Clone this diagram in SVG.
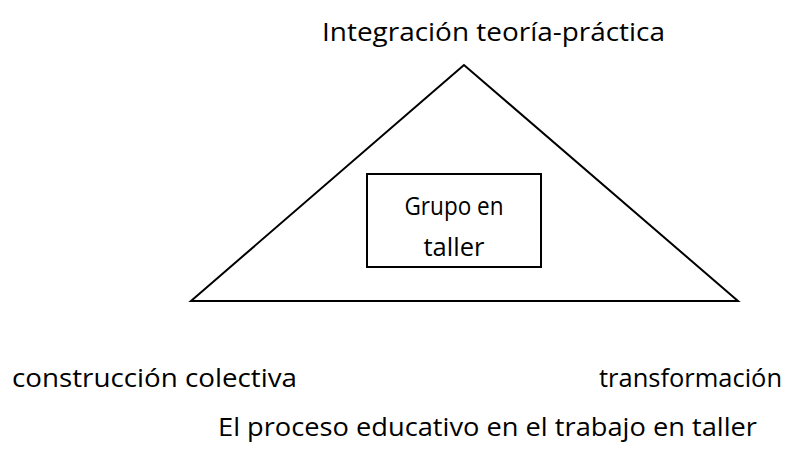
<svg xmlns="http://www.w3.org/2000/svg" width="797" height="454" viewBox="0 0 797 454">
<style>
text{font-family:"Open Sans","Liberation Sans",sans-serif;font-size:26px;fill:#000}
.shape{fill:#fff;stroke:#000;stroke-width:2}
</style>
<rect width="797" height="454" fill="#fff"/>
<g id="triangle">
<polygon class="shape" points="464,65 191,301 738,301"/>
</g>
<g id="grupo">
<rect class="shape" x="367" y="174" width="174" height="93"/>
<text x="454" y="215" text-anchor="middle" textLength="99" lengthAdjust="spacingAndGlyphs">Grupo en</text>
<text x="454" y="256" text-anchor="middle" textLength="61" lengthAdjust="spacingAndGlyphs">taller</text>
</g>
<g id="integracion">
<text x="322" y="41" textLength="343" lengthAdjust="spacingAndGlyphs">Integración teoría-práctica</text>
</g>
<g id="construccion">
<text x="12" y="387" textLength="285" lengthAdjust="spacingAndGlyphs">construcción colectiva</text>
</g>
<g id="transformacion">
<text x="599" y="387" textLength="183" lengthAdjust="spacingAndGlyphs">transformación</text>
</g>
<g id="caption">
<text x="218" y="436" textLength="539" lengthAdjust="spacingAndGlyphs">El proceso educativo en el trabajo en taller</text>
</g>
<g id="connectors"></g>
</svg>
